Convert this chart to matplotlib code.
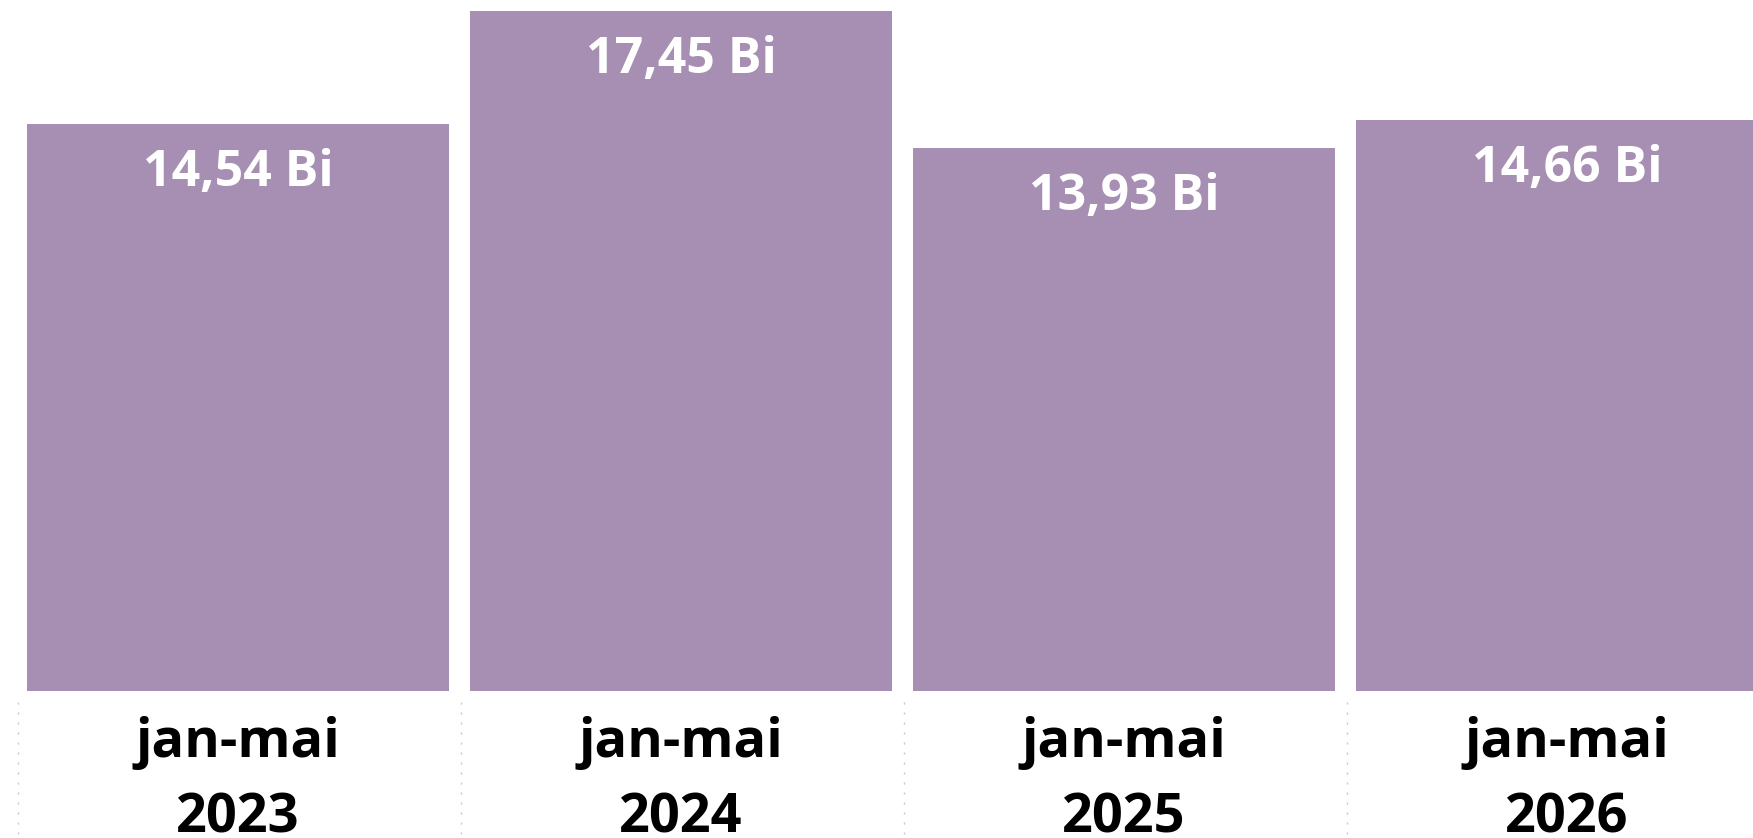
import matplotlib
matplotlib.use("Agg")
import matplotlib.pyplot as plt
from matplotlib.transforms import blended_transform_factory

# ---- data ----
years = ["2023", "2024", "2025", "2026"]
period = "jan-mai"
values = [14.54, 17.45, 13.93, 14.66]   # bilhões

bar_color = "#A68FB3"
font = "Open Sans"

W, H = 1753, 838
fig = plt.figure(figsize=(W / 100, H / 100), dpi=100)
axes_bottom_px = 691
ax = fig.add_axes([0, (H - axes_bottom_px) / H, 1, axes_bottom_px / H])

x = list(range(len(years)))
ax.bar(x, values, width=0.953, color=bar_color, edgecolor="none")

pitch = 443.0
ax.set_xlim(-238 / pitch, (W - 238) / pitch)
ax.set_ylim(0, axes_bottom_px / 38.97)
ax.axis("off")

# value labels inside bars
for xi, v in zip(x, values):
    txt = f"{v:.2f}".replace(".", ",") + " Bi"
    ax.annotate(txt, (xi, v), xytext=(0, -62 * 72 / 100), textcoords="offset points",
                ha="center", va="baseline", color="white", fontsize=36,
                fontweight="bold", family=font)

# category labels
tr = blended_transform_factory(ax.transData, ax.transAxes)
for xi, yr in zip(x, years):
    ax.text(xi, (axes_bottom_px - 757) / axes_bottom_px, period, transform=tr,
            ha="center", va="baseline", fontsize=39, fontweight="bold",
            family=font, color="black", clip_on=False)
    ax.text(xi, (axes_bottom_px - 832) / axes_bottom_px, yr, transform=tr,
            ha="center", va="baseline", fontsize=39, fontweight="bold",
            family=font, color="black", clip_on=False)

# dotted separators between categories
for b in [i - 0.5 for i in range(len(years) + 1)]:
    ax.plot([b + 0.004, b + 0.004],
            [(axes_bottom_px - 702) / axes_bottom_px, (axes_bottom_px - 834) / axes_bottom_px],
            transform=tr, color="#C8C8C8", lw=1.0, linestyle=(0, (1.5, 5.7)),
            clip_on=False)

fig.savefig("out.png", dpi=100)
